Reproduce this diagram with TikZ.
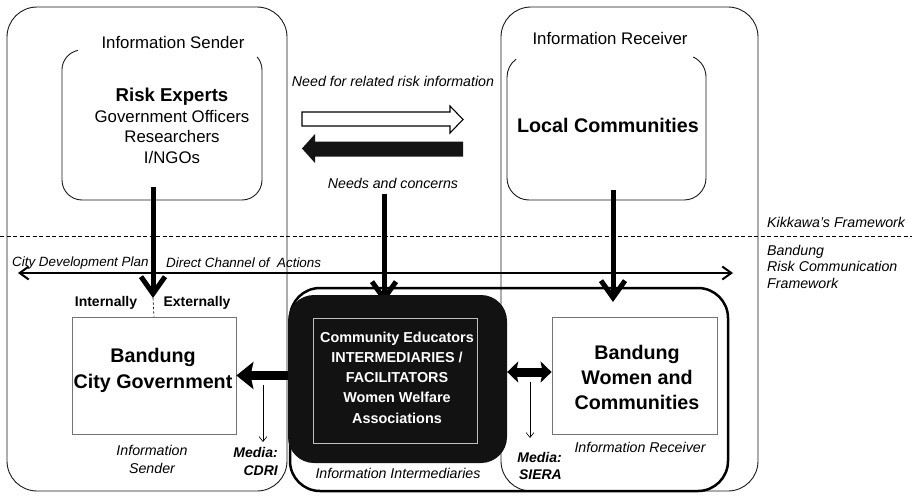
\documentclass[tikz,border=0pt]{standalone}
\usepackage{fontspec}
\setmainfont{Liberation Sans}
\usetikzlibrary{arrows.meta}
\newcommand{\fsz}[2]{\fontsize{#1}{#2}\selectfont}

\begin{document}
\begin{tikzpicture}[x=1pt,y=-1pt,
  frame/.style={draw=black!90,line width=0.9pt,rounded corners=30pt},
  pane/.style={draw=black!90,line width=0.9pt},
  plainbox/.style={draw=black!55,line width=0.8pt,inner sep=0pt},
  head/.style={inner sep=0pt,font=\fsz{16.8}{20}},
  lbl/.style={inner sep=0pt,font=\fsz{14.2}{18}\itshape},
  lblsm/.style={inner sep=0pt,font=\fsz{13.4}{16}\itshape},
  side/.style={inner sep=0pt,font=\fsz{14.2}{16.5}\itshape,align=left},
  bigtxt/.style={inner sep=0pt,align=center,font=\fsz{19.7}{25.5}\bfseries},
  tag/.style={inner sep=0pt,font=\fsz{14}{17}\bfseries},
  medialbl/.style={inner sep=0pt,font=\fsz{14}{17.5}\bfseries\itshape},
  vflow/.style={line width=5pt,-{Straight Barb[length=17pt,width=24pt]}},
  hflow/.style={line width=9pt},
  media/.style={line width=0.6pt,-{Straight Barb[length=5pt,width=8pt]}},
]
\useasboundingbox (0,0) rectangle (912,495);
\fill[white] (0,0) rectangle (912,495);

% outer sender / receiver frames
\draw[frame] (7,7) rectangle (287,491);
\draw[frame] (501,7) rectangle (758,491);

% boundary between the two frameworks
\draw[line width=0.7pt,dash pattern=on 4pt off 2.5pt] (0,236) -- (912,236);

% frame headings
\node[head] (sendhd) at (173,42) {Information Sender};
\node[head] (recvhd) at (610,38) {Information Receiver};

% risk experts box, open at the top
\node[minimum width=200pt,minimum height=150pt,inner sep=0pt] (experts) at (162,125) {};
\draw[pane] (77.8,50.4) arc[start angle=102,end angle=180,radius=20pt];
\draw[pane,rounded corners=20pt] (62,70) -- (62,200) -- (262,200) -- (262,70);
\draw[pane] (262,70) arc[start angle=0,end angle=41,radius=20pt];
\node[align=center,inner sep=0pt,font=\fsz{16.8}{20.5}] (expertsTxt) at (172,126)
  {{\fsz{18.6}{20.5}\bfseries Risk Experts}\\Government Officers\\Researchers\\I/NGOs};

% local communities box, open at the top
\node[minimum width=199pt,minimum height=145pt,inner sep=0pt] (local) at (606.5,127.5) {};
\draw[pane] (516.1,59.2) arc[start angle=126,end angle=180,radius=22pt];
\draw[pane,rounded corners=22pt] (507,77) -- (507,200) -- (706,200) -- (706,77);
\draw[pane] (706,77) arc[start angle=0,end angle=65,radius=22pt];
\node[bigtxt] (localTxt) at (608,125) {Local Communities};

% exchange between experts and communities
\node[lbl] (needInfo) at (393,81) {Need for related risk information};
\draw[line width=1.1pt,fill=white] (302,112) -- (450,112) -- (450,106) -- (463,119.5)
  -- (450,133) -- (450,126) -- (302,126) -- cycle;
\fill[black!92] (463,141.5) -- (315,141.5) -- (315,134) -- (302,148.5) -- (315,163)
  -- (315,156.5) -- (463,156.5) -- cycle;
\node[lbl] (needsTxt) at (393,183) {Needs and concerns};

% right-hand framework captions
\node[side,anchor=west] (kikkawa) at (767,222) {Kikkawa's Framework};
\node[side,anchor=west] (bandungFw) at (767,266.5) {Bandung\\Risk Communication\\Framework};

% city development plan / direct channel of actions
\coordinate (cdpL) at (18,273);
\coordinate (cdpR) at (733,273);
\draw[line width=2pt,{Straight Barb[length=9pt,width=13pt]}-{Straight Barb[length=9pt,width=13pt]}] (cdpL) -- (cdpR);
\node[lblsm,anchor=west] (cdpTxt) at (12,263) {City Development Plan};
\node[lblsm,anchor=west] (dcaTxt) at (166,263) {Direct Channel of \ Actions};

% group of intermediaries and receivers
\draw[line width=2.5pt,rounded corners=30pt] (290,288) rectangle (728,491);

% lower boxes
\node[plainbox,minimum width=164pt,minimum height=117pt] (gov) at (154,375.5) {};
\node[bigtxt,font=\fsz{19.7}{26}\bfseries] (govTxt) at (153,370) {Bandung\\City Government};
\node[plainbox,minimum width=165pt,minimum height=117pt] (women) at (634.5,375.5) {};
\node[bigtxt,font=\fsz{19.7}{25}\bfseries] (womenTxt) at (637,377) {Bandung\\Women and\\Communities};

% flows from the upper framework downwards
\coordinate (expOut) at (153,187);
\coordinate (govIn) at (153,298);
\coordinate (needOut) at (384,194);
\coordinate (eduIn) at (384,303);
\coordinate (locOut) at (613,190);
\coordinate (womIn) at (613,302);
\draw[vflow] (expOut) -- (govIn);
\draw[vflow] (needOut) -- (eduIn);
\draw[vflow] (locOut) -- (womIn);
\draw[line width=0.6pt,dash pattern=on 2.5pt off 2pt] (govIn) -- (gov.north);
\node[tag] (intTxt) at (106,303) {Internally};
\node[tag] (extTxt) at (197,303) {Externally};

% intermediaries
\node[fill=black!93,rounded corners=26pt,minimum width=219pt,minimum height=168pt,inner sep=0pt] (edu) at (397.5,379) {};
\node[draw=black!25,line width=0.8pt,minimum width=164pt,minimum height=125pt,inner sep=0pt] (eduBox) at (395,380.5) {};
\node[text=white,align=center,inner sep=0pt,font=\fsz{14.4}{20.3}\bfseries] (eduTxt) at (397,377.5)
  {Community Educators\\INTERMEDIARIES /\\FACILITATORS\\Women Welfare\\Associations};
\node[lbl] (eduCap) at (398,473) {Information Intermediaries};

% flows between intermediaries, government and communities
\draw[hflow,-{Stealth[length=17pt,width=27pt,inset=3pt]}] (edu.west |- gov.east) -- (gov.east);
\coordinate (ahy) at (0,372);
\draw[hflow,{Stealth[length=11pt,width=21pt,inset=2pt]}-{Stealth[length=11pt,width=21pt,inset=2pt]}]
  (edu.east |- ahy) -- (women.west |- ahy);

% media channels
\coordinate (cdriTop) at (263,385);
\coordinate (cdriEnd) at (263,442);
\draw[media] (cdriTop) -- (cdriEnd);
\node[medialbl,align=right,anchor=east] (cdri) at (278,461.5) {Media:\\CDRI};
\coordinate (sieraTop) at (530,382);
\coordinate (sieraEnd) at (530,438);
\draw[media] (sieraTop) -- (sieraEnd);
\node[medialbl,align=right,anchor=east] (siera) at (562,466) {Media:\\SIERA};

% lower captions
\node[lbl,align=center] (govCap) at (152,459) {Information\\Sender};
\node[lbl] (womenCap) at (640,447) {Information Receiver};
\end{tikzpicture}
\end{document}
